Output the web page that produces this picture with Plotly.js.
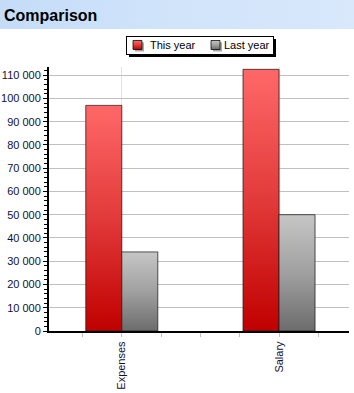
<!DOCTYPE html>
<html>
<head>
<meta charset="utf-8">
<script src="https://cdn.plot.ly/plotly-3.0.1.min.js"></script>
<style>
  html, body { margin: 0; padding: 0; background: #ffffff; }
  #wrap { position: relative; width: 354px; height: 393px; }
  #band { position: absolute; left: 0; top: 0; width: 354px; height: 29px;
          background: linear-gradient(to right, #c4dcf8 0%, #cfe3fa 40%, #d9e8fb 100%); }
  #chart { position: absolute; left: 0; top: 0; width: 354px; height: 393px; }
</style>
</head>
<body>
<div id="wrap">
  <div id="band"></div>
  <div id="chart"></div>
</div>
<script>
// ---- data ----
const categories = ['Expenses', 'Salary'];
const thisYear = [97000, 112500];
const lastYear = [34000, 50000];
const seriesNames = ['This year', 'Last year'];
const chartTitle = 'Comparison';

const xIdx = categories.map((c, i) => i);
const tickFont = { family: 'Liberation Sans, Arial, sans-serif', size: 11, color: '#111133' };

const traces = [
  { type: 'bar', name: seriesNames[0], x: xIdx, y: thisYear,
    marker: { color: '#e03a3a', line: { color: 'rgba(40,20,20,0.75)', width: 1 } } },
  { type: 'bar', name: seriesNames[1], x: xIdx, y: lastYear,
    marker: { color: '#a0a0a0', line: { color: 'rgba(30,30,30,0.75)', width: 1 } } }
];

const layout = {
  width: 354, height: 393,
  margin: { l: 49, r: 5, t: 67, b: 62, pad: 0 },
  paper_bgcolor: 'rgba(0,0,0,0)',
  plot_bgcolor: '#ffffff',
  separators: '. ',
  barmode: 'group',
  bargap: 0.542,
  bargroupgap: 0,
  title: { text: '<b>' + chartTitle + '</b>', xref: 'container', yref: 'container',
           x: 4 / 354, xanchor: 'left', y: 1 - 15 / 393, yanchor: 'middle',
           font: { family: 'Liberation Sans, Arial, sans-serif', size: 16, color: '#000000' } },
  showlegend: true,
  legend: { orientation: 'h', xref: 'container', yref: 'container',
            x: 200 / 354, xanchor: 'center', y: 1 - 36 / 393, yanchor: 'top',
            bgcolor: '#ffffff', bordercolor: '#000000', borderwidth: 1,
            font: { family: 'Liberation Sans, Arial, sans-serif', size: 11, color: '#000000' },
            itemwidth: 30, traceorder: 'normal' },
  xaxis: {
    type: 'linear', range: [-0.463, 1.445], fixedrange: true,
    tickmode: 'array', tickvals: xIdx, ticktext: categories,
    tickangle: -90, tickfont: tickFont,
    ticks: 'outside', ticklen: 4, tickcolor: '#c0c0c0', tickwidth: 1,
    showgrid: true, gridcolor: '#e2e2e2', gridwidth: 1,
    minor: { dtick: 0.25, tick0: 0, ticks: 'outside', ticklen: 4, tickcolor: '#c0c0c0', showgrid: false },
    showline: true, linecolor: '#000000', linewidth: 2,
    zeroline: false
  },
  yaxis: {
    range: [0, 113500], fixedrange: true,
    dtick: 10000, tick0: 0, tickformat: ',d', tickfont: tickFont,
    ticks: 'outside', ticklen: 4, tickcolor: '#000000', tickwidth: 1,
    minor: { dtick: 2000, ticks: 'outside', ticklen: 3, tickcolor: '#000000', showgrid: false },
    showgrid: true, gridcolor: '#c0c0c0', gridwidth: 1,
    showline: true, linecolor: '#000000', linewidth: 2,
    zeroline: false
  }
};

// legend look of the reference (box position/size and entry offsets)
const legendBox = { left: 126, top: 36, width: 147, height: 18 };
const legendSymbolLeft = [133, 211];
const legendTextLeft = [150, 224];

function shiftTransform(el, dx, dy) {
  const t = el.getAttribute('transform') || '';
  const m = t.match(/translate\(\s*([-\d.e]+)[ ,]*([-\d.e]+)?\s*\)/);
  let x = 0, y = 0, rest = t;
  if (m) { x = parseFloat(m[1]); y = parseFloat(m[2] || 0); rest = t.replace(m[0], ''); }
  el.setAttribute('transform', 'translate(' + (x + dx) + ',' + (y + dy) + ')' + rest);
}

Plotly.newPlot('chart', traces, layout, { staticPlot: true, displayModeBar: false }).then(gd => {
  const NS = 'http://www.w3.org/2000/svg';
  const svg = gd.querySelector('svg.main-svg');
  let defs = svg.querySelector('defs');
  if (!defs) { defs = document.createElementNS(NS, 'defs'); svg.insertBefore(defs, svg.firstChild); }
  function grad(id, stops) {
    const lg = document.createElementNS(NS, 'linearGradient');
    lg.setAttribute('id', id);
    lg.setAttribute('x1', '0'); lg.setAttribute('y1', '0');
    lg.setAttribute('x2', '0'); lg.setAttribute('y2', '1');
    stops.forEach(([o, c]) => {
      const s = document.createElementNS(NS, 'stop');
      s.setAttribute('offset', o); s.setAttribute('stop-color', c);
      lg.appendChild(s);
    });
    defs.appendChild(lg);
  }
  grad('gradRed', [['0', '#ff6868'], ['0.5', '#e23a3a'], ['1', '#c00000']]);
  grad('gradGray', [['0', '#c6c6c6'], ['0.5', '#a0a0a0'], ['1', '#6c6c6c']]);
  const ids = ['gradRed', 'gradGray'];
  gd.querySelectorAll('.barlayer .trace').forEach((t, i) => {
    t.querySelectorAll('path').forEach(p => { p.style.fill = 'url(#' + ids[i] + ')'; });
  });

  // legend reshaping
  const legend = gd.querySelector('.legend');
  const bg = legend && legend.querySelector('rect.bg');
  if (bg) {
    legend.querySelectorAll('[clip-path]').forEach(el => el.removeAttribute('clip-path'));
    const r = bg.getBoundingClientRect();
    shiftTransform(legend, legendBox.left - r.left, legendBox.top - r.top);
    bg.setAttribute('width', legendBox.width);
    bg.setAttribute('height', legendBox.height);
    const sh = document.createElementNS(NS, 'rect');
    const bx = parseFloat(bg.getAttribute('x') || 0), by = parseFloat(bg.getAttribute('y') || 0);
    sh.setAttribute('x', bx + 3); sh.setAttribute('y', by + 3);
    sh.setAttribute('width', legendBox.width);
    sh.setAttribute('height', legendBox.height);
    sh.setAttribute('fill', '#000000');
    bg.parentNode.insertBefore(sh, bg);
    const midY = legendBox.top + legendBox.height / 2;
    legend.querySelectorAll('.traces').forEach((t, i) => {
      const p = t.querySelector('.legendpoints path');
      if (p) {
        p.setAttribute('d', 'M4.5,4.5H-4.5V-4.5H4.5Z');
        p.style.fill = 'url(#' + ids[i] + ')';
        p.style.stroke = '#000000';
        p.style.strokeWidth = '1px';
        const s = p.cloneNode(true);
        s.style.fill = '#a8a8a8'; s.style.stroke = 'none';
        s.setAttribute('transform', (p.getAttribute('transform') || '') + ' translate(2,2)');
        p.parentNode.insertBefore(s, p);
        const pr = p.getBoundingClientRect();
        shiftTransform(t, legendSymbolLeft[i] - pr.left, midY - (pr.top + pr.height / 2));
      }
      const tx = t.querySelector('text.legendtext');
      if (tx) {
        const trr = tx.getBoundingClientRect();
        const x0 = parseFloat(tx.getAttribute('x') || 0);
        tx.setAttribute('x', x0 + (legendTextLeft[i] - trr.left));
      }
    });
  }
});
</script>
</body>
</html>
